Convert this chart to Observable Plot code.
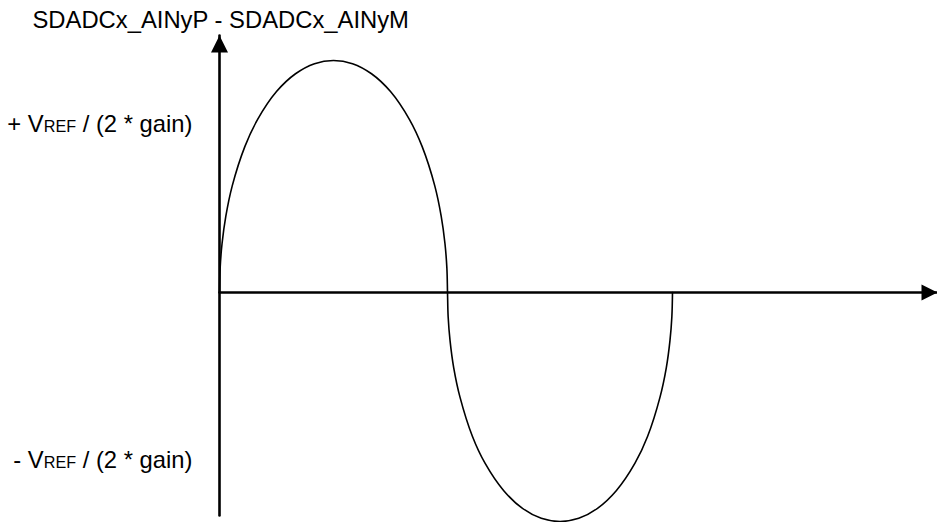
<!DOCTYPE html>
<html><head><meta charset="utf-8">
<script src="https://cdn.jsdelivr.net/npm/d3@7"></script>
<script src="https://cdn.jsdelivr.net/npm/@observablehq/plot@0.6"></script>
<style>
html,body{margin:0;padding:0;background:#fff;}
svg{display:block;}
</style>
</head><body><div id="chart"></div>
<script>
// ---- data ----
const titleText = "SDADCx_AINyP - SDADCx_AINyM";
// level labels on the vertical axis (in units of VREF / (2 * gain))
const levelValues = [1, -1];
const levelPrefix = ["+ V", "- V"];
const levelSub = ["REF", "REF"];
const levelSuffix = [" / (2 * gain)", " / (2 * gain)"];
// waveform: phase (deg) and differential voltage (in units of VREF/(2*gain))
const phase = [0, 0.5, 2, 5, 10, 20, 30, 45, 60, 75, 90, 105, 120, 135, 150, 160, 170, 175, 178, 179.5, 180,
  180.5, 182.0, 184.9, 189.9, 199.7, 209.6, 224.4, 239.2, 254.0, 268.8, 283.6, 298.4, 313.2, 328.0, 337.9, 347.7, 352.7, 355.6, 357.1, 357.6];
const signal = [0, 0.145, 0.290, 0.454, 0.633, 0.868, 1.029, 1.196, 1.302, 1.362, 1.381, 1.362, 1.302, 1.196, 1.029, 0.868, 0.633, 0.454, 0.290, 0.145, 0,
  -0.144, -0.286, -0.448, -0.624, -0.857, -1.016, -1.180, -1.285, -1.344, -1.363, -1.344, -1.285, -1.180, -1.016, -0.857, -0.624, -0.448, -0.286, -0.144, 0];
// axis extents
const xAxisX = [0, 566.8];
const xAxisY = [0, 0];
const yAxisX = [0, 0];
const yAxisY = [-1.327, 1.53];

// ---- build ----
const wave = phase.map((p, i) => ({p, v: signal[i]}));
const xAxisLine = xAxisX.map((x, i) => ({x, y: xAxisY[i]}));
const yAxisLine = yAxisX.map((x, i) => ({x, y: yAxisY[i]}));
const levels = levelValues.map((v, i) => ({v, full: levelPrefix[i] + levelSub[i] + levelSuffix[i], i}));

const tipUp = {draw(ctx, size) {
  const r = Math.sqrt(size / Math.PI);
  ctx.moveTo(0, 0); ctx.lineTo(r, 2 * r); ctx.lineTo(-r, 2 * r); ctx.closePath();
}};
const tipRight = {draw(ctx, size) {
  const r = Math.sqrt(size / Math.PI);
  ctx.moveTo(0, 0); ctx.lineTo(-2 * r, r); ctx.lineTo(-2 * r, -r); ctx.closePath();
}};

const font = "'Liberation Sans', Arial, Helvetica, sans-serif";
const chart = Plot.plot({
  width: 937,
  height: 522,
  marginLeft: 219,
  marginRight: 0,
  marginTop: 0,
  marginBottom: 0,
  style: {fontFamily: font, background: "#fff", color: "#000", overflow: "visible"},
  x: {domain: [0, 566.8], axis: null},
  y: {domain: [-1.369, 1.738], axis: null},
  marks: [
    Plot.line(xAxisLine, {x: "x", y: "y", stroke: "#000", strokeWidth: 2.6}),
    Plot.line(yAxisLine, {x: "x", y: "y", stroke: "#000", strokeWidth: 2.6}),
    Plot.dot([xAxisLine[1]], {x: "x", y: "y", symbol: tipRight, r: 8, fill: "#000", stroke: "none"}),
    Plot.dot([yAxisLine[1]], {x: "x", y: "y", symbol: tipUp, r: 8.5, fill: "#000", stroke: "none"}),
    Plot.line(wave, {x: "p", y: "v", curve: "catmull-rom", stroke: "#000", strokeWidth: 1.6}),
    Plot.text(levels, {frameAnchor: "left", y: "v", text: "full", textAnchor: "end", dx: -27, fontSize: 23.8, fill: "#000"}),
    Plot.text([titleText], {frameAnchor: "top-left", text: d => d, textAnchor: "start", lineAnchor: "middle", dx: -187, dy: 20, fontSize: 23.8, fill: "#000"})
  ]
});

// render the REF part of V_REF in a smaller size
d3.select(chart).selectAll("text").each(function() {
  const el = this;
  const lv = levels.find(l => el.textContent === l.full);
  if (!lv) return;
  const s = d3.select(el);
  s.text(null);
  s.append("tspan").text(levelPrefix[lv.i]);
  s.append("tspan").attr("font-size", 16.2).text(levelSub[lv.i]);
  s.append("tspan").text(levelSuffix[lv.i]);
});

document.getElementById("chart").appendChild(chart);
</script>
</body></html>
